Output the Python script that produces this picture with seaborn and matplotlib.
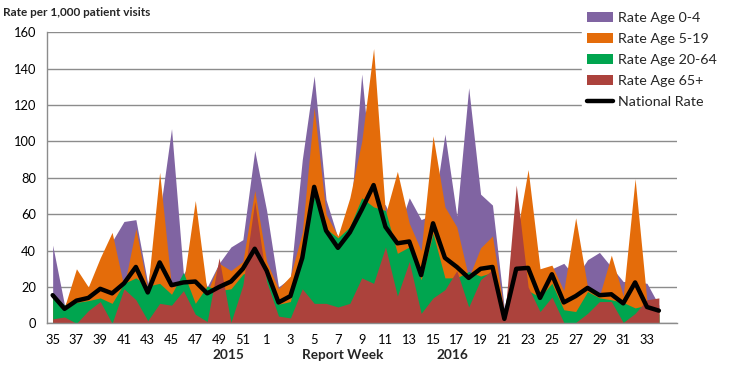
import matplotlib
matplotlib.use("Agg")
import matplotlib.pyplot as plt
import seaborn as sns
import numpy as np
import pandas as pd
from matplotlib.patches import Patch
from matplotlib.lines import Line2D

weeks = list(range(35, 53)) + list(range(1, 35))
rate_0_4 = [43, 10, 20, 15, 30, 45, 56, 57, 22, 60, 107, 27, 38, 20, 33, 42, 46, 95,
            62, 20, 25, 90, 136, 68, 47, 55, 137, 70, 65, 50, 69, 57, 60, 104, 59, 129.5,
            71, 65, 8, 45, 40, 25, 30, 33, 25, 35, 39, 31, 23, 23, 22, 10]
rate_5_19 = [14, 9, 30, 20, 36, 50, 20, 52, 19, 83, 20, 22, 67.5, 17, 33, 29, 34, 73,
             34, 19, 26, 50, 118.5, 60, 48, 69, 100, 151, 60, 83.5, 55, 40, 103, 64, 53, 25,
             41.5, 48, 6, 47, 84.5, 30, 32, 18, 58, 20, 15, 37.5, 15, 79.5, 12, 8]
rate_20_64 = [16, 10, 11.5, 12.5, 14, 11, 22, 25, 20.5, 22, 16, 28, 11, 20.5, 18, 19, 27, 30,
              27, 10.5, 12, 40, 70, 52, 47, 53, 69, 64, 62, 38.5, 42, 24, 49.5, 25, 25, 28.5,
              26, 28, 3, 30, 18, 14.5, 22, 7.5, 6.5, 17.5, 14, 13, 11.5, 8.5, 10, 5]
rate_65 = [2.5, 3.5, 0, 7, 12, 0, 19, 13, 1.5, 11, 10, 18, 5, 1, 36, 0.5, 21, 67,
           23, 4, 3, 19, 11, 11, 9, 11, 25, 22, 42, 15, 34, 5.5, 14, 18.5, 29, 9,
           24, 29.5, 1, 76, 20, 6.5, 14.5, 0.5, 0.5, 5.5, 12, 12, 0.5, 5.5, 13, 14]
national = [15.5, 8, 12.5, 14, 19, 16.5, 22, 31, 17, 33.5, 21, 22.5, 23, 16.5, 20, 23, 30, 41,
            29, 11.5, 15, 36, 75, 51, 41.5, 50, 62.5, 76, 53, 44, 45, 26.5, 55, 36, 31, 25,
            30, 31, 2.5, 30, 30.5, 14, 27, 11.5, 15, 19.5, 15.5, 16, 11, 22.5, 9, 7]
series_names = ["Rate Age 0-4", "Rate Age 5-19", "Rate Age 20-64", "Rate Age 65+"]
colors = ["#8064A2", "#E46C0A", "#00A54F", "#AC423C"]

sns.set_theme(style="white")
plt.rcParams['font.family'] = ['Lato', 'DejaVu Sans']

df = pd.DataFrame({"pos": np.arange(len(weeks)), "week": weeks,
                   series_names[0]: rate_0_4, series_names[1]: rate_5_19,
                   series_names[2]: rate_20_64, series_names[3]: rate_65,
                   "National Rate": national})

fig = plt.figure(figsize=(7.3, 3.7), dpi=100)
ax = fig.add_axes([0.064, 0.126, 0.863, 0.787])

for name, c in zip(series_names, colors):
    ax.fill_between(df["pos"], 0, df[name], color=c, linewidth=0, zorder=2)
sns.lineplot(data=df, x="pos", y="National Rate", ax=ax, color="black", linewidth=3.2,
             zorder=5, legend=False)

ax.set_xlim(-0.5, 52.5)
ax.set_ylim(0, 160)
ax.set_yticks(range(0, 161, 20))
ax.yaxis.grid(True, color="#8c8c8c", linewidth=1.0, zorder=0)
ax.set_axisbelow(True)
ax.set_xticks(df["pos"][::2])
ax.set_xticklabels([str(w) for w in weeks[::2]])
ax.set_xticks(np.arange(-0.5, 53, 1), minor=True)
ax.tick_params(axis="x", which="major", length=0, labelsize=9.3, pad=8, labelcolor="black")
ax.tick_params(axis="x", which="minor", length=4, width=1, color="#8c8c8c", direction="out")
ax.tick_params(axis="y", length=4, width=1, color="#8c8c8c", labelsize=9.3, direction="out",
               labelcolor="black")
for s in ["top", "right"]:
    ax.spines[s].set_visible(False)
for s in ["left", "bottom"]:
    ax.spines[s].set_color("#8c8c8c")
    ax.spines[s].set_linewidth(1.0)
ax.set_xlabel("")
ax.set_ylabel("")

fig.text(3 / 730, 1 - 12 / 370, "Rate per 1,000 patient visits", fontsize=8.5,
         fontweight="bold", va="center", ha="left")
fig.text(228 / 730, 1 - 355 / 370, "2015", fontsize=9.8, fontweight="bold", ha="center", va="center")
fig.text(343 / 730, 1 - 355 / 370, "Report Week", fontsize=9.8, fontweight="bold", ha="center", va="center")
fig.text(452 / 730, 1 - 355 / 370, "2016", fontsize=9.8, fontweight="bold", ha="center", va="center")

handles = [Patch(facecolor=c, edgecolor="none") for c in colors]
handles.append(Line2D([0], [0], color="black", linewidth=3.2))
leg = fig.legend(handles, series_names + ["National Rate"], loc="upper left",
                 bbox_to_anchor=(582 / 730, 1 - 7 / 370), frameon=True, fontsize=10.3,
                 handlelength=1.85, handleheight=0.6, labelspacing=0.63, handletextpad=0.3,
                 borderpad=0.35, borderaxespad=0)
leg.get_frame().set_facecolor("white")
leg.get_frame().set_edgecolor("white")
leg.get_frame().set_alpha(1)

fig.savefig("out.png", dpi=100)
